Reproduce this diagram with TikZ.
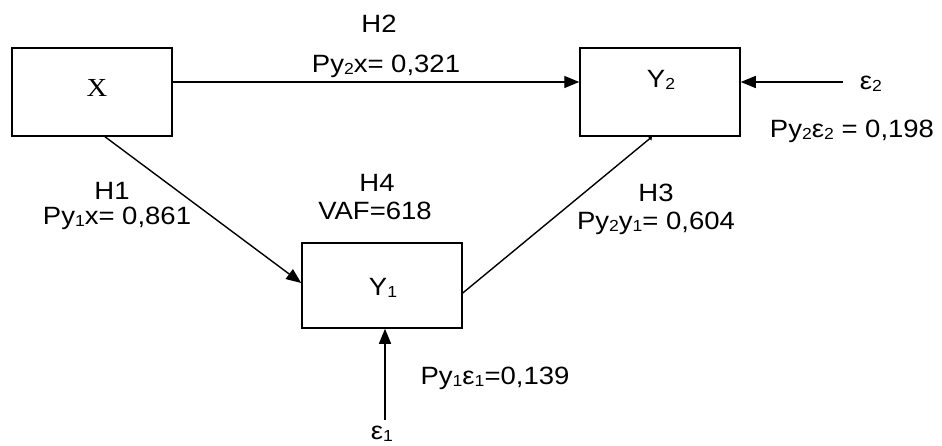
\documentclass[tikz,border=0pt]{standalone}
\usepackage{fontspec}
\setmainfont{Liberation Sans}[FakeStretch=1.1]
\newfontfamily\timesf{Liberation Serif}[FakeStretch=1.1]
\usetikzlibrary{arrows.meta}
\newcommand\sbs[1]{\raisebox{-2pt}{\fontsize{16}{16}\selectfont #1}}
\begin{document}
\begin{tikzpicture}[x=1pt,y=-1pt,
  box/.style={draw, line width=1.5pt, minimum width=160pt, minimum height=88pt, inner sep=0pt},
  lbl/.style={anchor=base, inner sep=0pt, font=\fontsize{25}{28}\selectfont},
  arr/.style={line width=1.4pt, -{Triangle[length=15pt,width=12pt]}},
  ln/.style={line width=1.4pt}]
\useasboundingbox (0,0) rectangle (942,446);
% boxes
\node[box] (X) at (92,92) {};
\node[box] (Y2) at (660,92) {};
\node[box, minimum height=85pt] (Y1) at (382,285.5) {};
% box labels
\node[lbl, font=\timesf\fontsize{26}{28}\selectfont] (Xl) at (97,97) {X};
\node[lbl] (Y2l) at (661,88) {Y\sbs{2}};
\node[lbl] (Y1l) at (383,295) {Y\sbs{1}};
% error sources
\node[lbl] (e2) at (871,90) {ε\sbs{2}};
\node[lbl] (e1) at (382,439) {ε\sbs{1}};
\coordinate (e2s) at (843,82);
\coordinate (e1s) at (385,420);
% path labels
\node[lbl] (H2) at (379,33) {H2};
\node[lbl] (p2) at (386,73) {Py\sbs{2}x= 0,321};
\node[lbl] (H4) at (377,192) {H4};
\node[lbl] (VAF) at (375,220) {VAF=618};
\node[lbl] (H1) at (112,200) {H1};
\node[lbl] (p1) at (117,225) {Py\sbs{1}x= 0,861};
\node[lbl] (H3) at (656,202) {H3};
\node[lbl] (p3) at (656,230) {Py\sbs{2}y\sbs{1}= 0,604};
\node[lbl] (pe2) at (852,138) {Py\sbs{2}ε\sbs{2} = 0,198};
\node[lbl] (pe1) at (495,384) {Py\sbs{1}ε\sbs{1}=0,139};
% connectors
\draw[arr] ([yshift=10pt]X.east) -- ([yshift=10pt]Y2.west);
\draw[arr] (e2s) -- ([yshift=10pt]Y2.east);
\draw[arr] ([xshift=13pt]X.south) -- ([yshift=2.5pt]Y1.west);
\draw[ln, -{Triangle[length=3pt,width=5pt]}] ([yshift=-7.5pt]Y1.east) -- ([xshift=-8pt]Y2.south);
\draw[arr] (e1s) -- ([xshift=3pt]Y1.south);
\end{tikzpicture}
\end{document}
